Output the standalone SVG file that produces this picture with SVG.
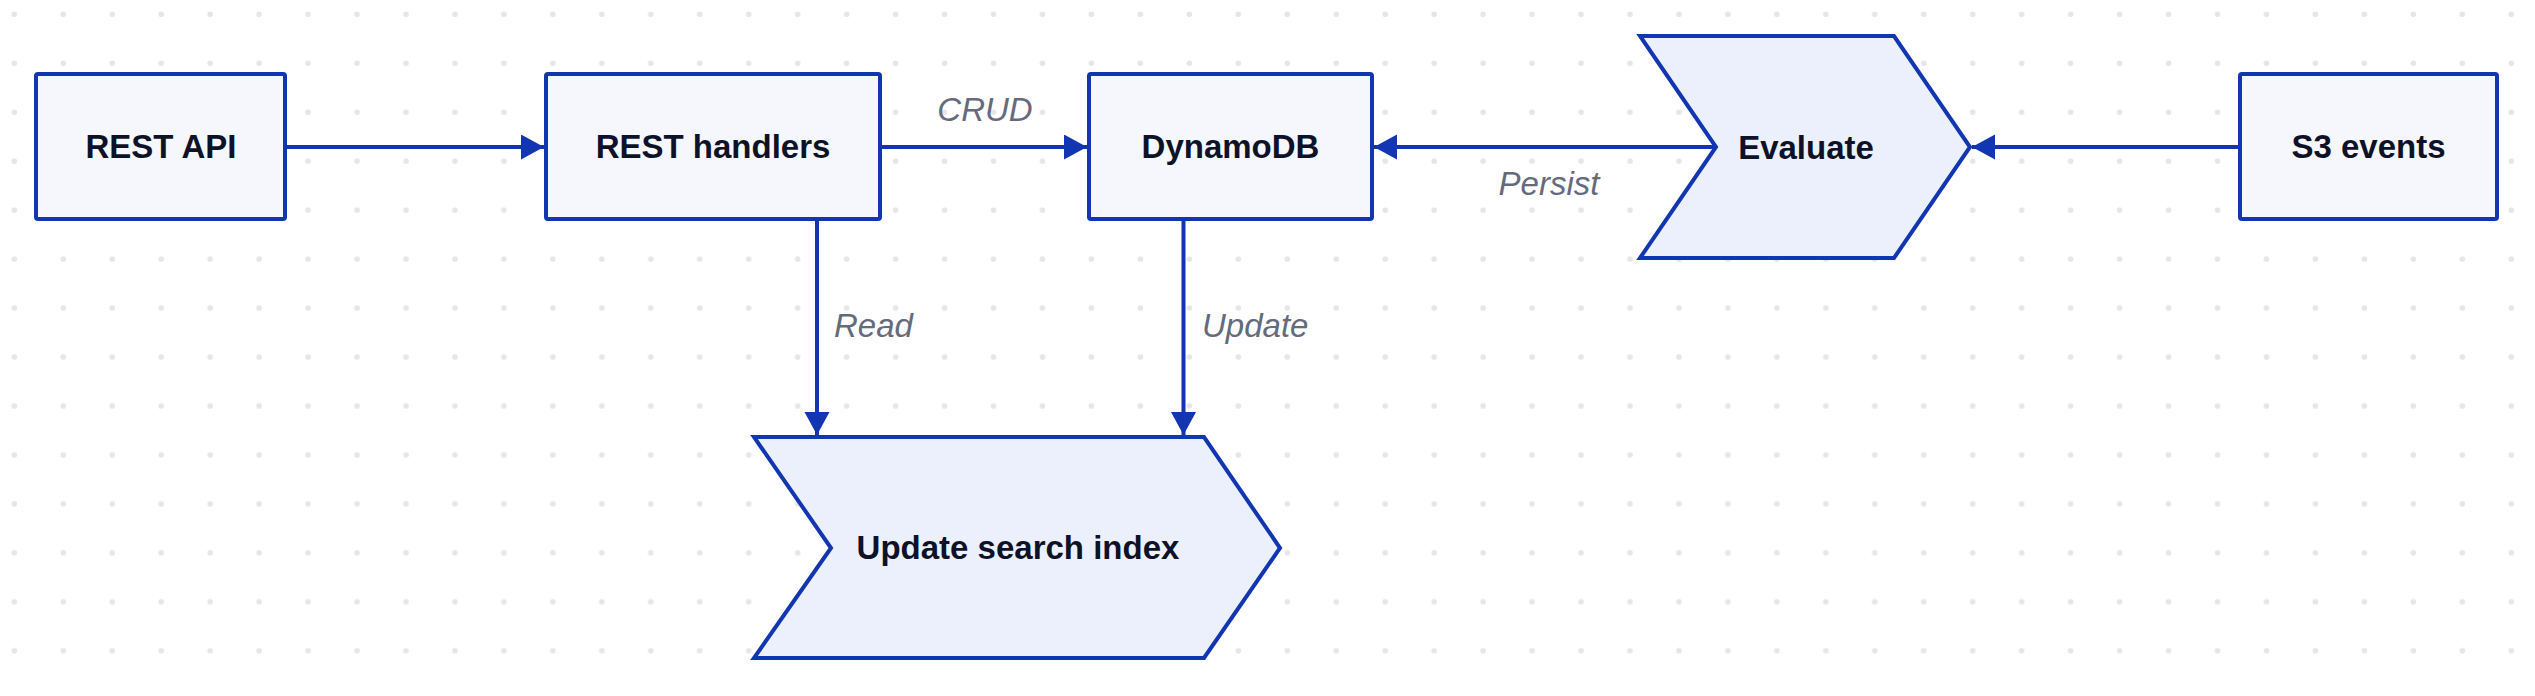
<svg xmlns="http://www.w3.org/2000/svg" width="2535" height="696" viewBox="0 0 2535 696">
  <style>
    .box { fill: #f5f7fd; stroke: #1235b1; stroke-width: 4; }
    .chev { fill: #ebf0fc; stroke: #1235b1; stroke-width: 4; stroke-linejoin: miter; }
    .lbl { font-family: "Liberation Sans", Arial, sans-serif; font-weight: bold; font-size: 33px; fill: #0e1228; text-anchor: middle; }
    .elbl { font-family: "Liberation Sans", Arial, sans-serif; font-style: italic; font-size: 33px; fill: #656a7c; }
    .edge { stroke: #1235b1; stroke-width: 4; fill: none; }
  </style>
  <defs>
    <pattern id="dots" x="0" y="0" width="48.96" height="48.96" patternUnits="userSpaceOnUse">
      <circle cx="14.3" cy="14.3" r="2.8" fill="#e6e6e9"/>
    </pattern>
    <marker id="arr" markerUnits="userSpaceOnUse" markerWidth="24" markerHeight="26" refX="23" refY="12.5" orient="auto">
      <path d="M0,0 L23,12.5 L0,25 z" fill="#1235b1"/>
    </marker>
  </defs>
  <rect x="0" y="0" width="2535" height="696" fill="#ffffff"/>
  <rect x="0" y="0" width="2535" height="696" fill="url(#dots)"/>

  <g id="connectors">
    <line class="edge" x1="287" y1="147" x2="544" y2="147" marker-end="url(#arr)"/>
    <line class="edge" x1="882" y1="147" x2="1087" y2="147" marker-end="url(#arr)"/>
    <line class="edge" x1="1715" y1="147" x2="1374" y2="147" marker-end="url(#arr)"/>
    <line class="edge" x1="2238" y1="147" x2="1972" y2="147" marker-end="url(#arr)"/>
    <line class="edge" x1="817" y1="221" x2="817" y2="435" marker-end="url(#arr)"/>
    <line class="edge" x1="1183.5" y1="220" x2="1183.5" y2="435" marker-end="url(#arr)"/>
    <text class="elbl" x="985" y="121" text-anchor="middle">CRUD</text>
    <text class="elbl" x="1549" y="195" text-anchor="middle">Persist</text>
    <text class="elbl" x="834" y="337">Read</text>
    <text class="elbl" x="1202" y="337">Update</text>
  </g>

  <g id="rest-api">
    <rect class="box" x="36" y="74" width="249" height="145" rx="2"/>
    <text class="lbl" x="161" y="158">REST API</text>
  </g>
  <g id="rest-handlers">
    <rect class="box" x="546" y="74" width="334" height="145" rx="2"/>
    <text class="lbl" x="713" y="158">REST handlers</text>
  </g>
  <g id="dynamodb">
    <rect class="box" x="1089" y="74" width="283" height="145" rx="2"/>
    <text class="lbl" x="1230.5" y="158">DynamoDB</text>
  </g>
  <g id="evaluate">
    <polygon class="chev" points="1640,36 1894,36 1970,147 1894,258 1640,258 1716,147"/>
    <text class="lbl" x="1806" y="159">Evaluate</text>
  </g>
  <g id="s3-events">
    <rect class="box" x="2240" y="74" width="257" height="145" rx="2"/>
    <text class="lbl" x="2368.5" y="158">S3 events</text>
  </g>
  <g id="update-search-index">
    <polygon class="chev" points="754,437 1204,437 1280,548 1204,658 754,658 831,548"/>
    <text class="lbl" x="1018" y="559">Update search index</text>
  </g>
</svg>
